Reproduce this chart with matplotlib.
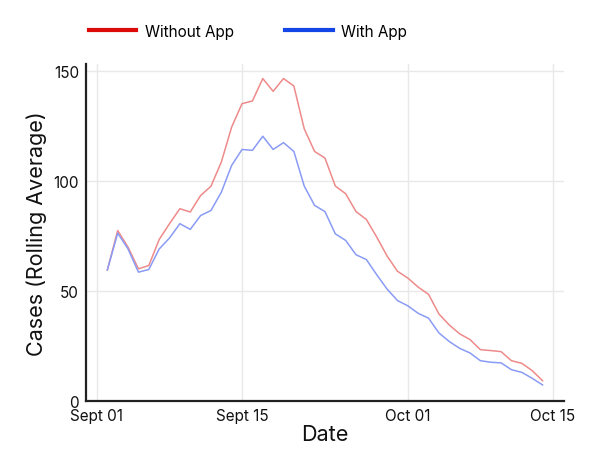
import matplotlib
matplotlib.use("Agg")
import matplotlib.pyplot as plt
import matplotlib.dates as mdates
from matplotlib.lines import Line2D
from datetime import datetime, timedelta

plt.rcParams['font.family'] = ['Inter', 'DejaVu Sans']

start = datetime(2020, 9, 2)
without_app = [59.5, 77.4, 69.8, 60, 61.5, 73.3, 80.5, 87.3, 85.8, 93.3, 97.5,
               108.5, 124.4, 135, 136.2, 146.4, 140.6, 146.4, 143, 123.6, 113.3,
               110.3, 97.6, 94.1, 86, 82.4, 74.4, 65.8, 58.9, 55.8, 51.7, 48.4,
               39.5, 34.5, 30.5, 27.9, 23.3, 22.9, 22.4, 18.3, 17.1, 13.8, 9.2]
with_app = [59.5, 76.2, 69, 58.5, 59.7, 69, 74, 80.5, 77.9, 84.2, 86.5,
            94.8, 107, 114.2, 113.8, 120.2, 114.2, 117.3, 113.3, 97.6, 88.8,
            86, 75.9, 72.9, 66.4, 64.2, 57.3, 50.8, 45.6, 43.2, 39.8, 37.6,
            30.9, 27, 23.9, 21.8, 18.3, 17.6, 17.3, 14.2, 13, 10.3, 7.3]
dates = [start + timedelta(days=i) for i in range(len(without_app))]
tick_dates = [datetime(2020, 9, 1), datetime(2020, 9, 15),
              datetime(2020, 10, 1), datetime(2020, 10, 15)]
tick_labels = ["Sept 01", "Sept 15", "Oct 01", "Oct 15"]
y_ticks = [0, 50, 100, 150]

fig = plt.figure(figsize=(6.01, 4.64), dpi=100)
ax = fig.add_axes([86/601, 1-402/464, (564-86)/601, (402-65)/464])

x = mdates.date2num(dates)
ax.plot(x, without_app, color="#ee8a8a", lw=1.1)
ax.plot(x, with_app, color="#8a9bf5", lw=1.1)

t0 = mdates.date2num(datetime(2020, 9, 1))
ax.set_xlim(t0 - 1.06, t0 + 45.07)
ax.set_ylim(0, 153)
ax.set_xticks(mdates.date2num(tick_dates))
ax.set_xticklabels(tick_labels)
ax.set_yticks(y_ticks)
ax.tick_params(length=0, labelsize=11, colors="#111111", pad=5)
ax.grid(True, color="#e8e8e8", lw=1)
ax.set_axisbelow(True)
for s in ["top", "right"]:
    ax.spines[s].set_visible(False)
ax.spines["left"].set_color("#222222")
ax.spines["left"].set_linewidth(1.6)
ax.spines["bottom"].set_color("#222222")
ax.spines["bottom"].set_linewidth(1.6)

ax.set_xlabel("Date", fontsize=15.5, color="#111111", labelpad=1)
ax.set_ylabel("Cases (Rolling Average)", fontsize=15.5, color="#111111", labelpad=5)

handles = [Line2D([], [], color="#dd0a0a", lw=3),
           Line2D([], [], color="#1445e6", lw=3)]
fig.legend(handles, ["Without App", "With App"], loc="center left",
           bbox_to_anchor=(75/601, 1-32/464), ncol=2, frameon=False,
           fontsize=11, handlelength=3.1, handletextpad=0.55, columnspacing=3.4)

fig.savefig("out.png", dpi=100)
